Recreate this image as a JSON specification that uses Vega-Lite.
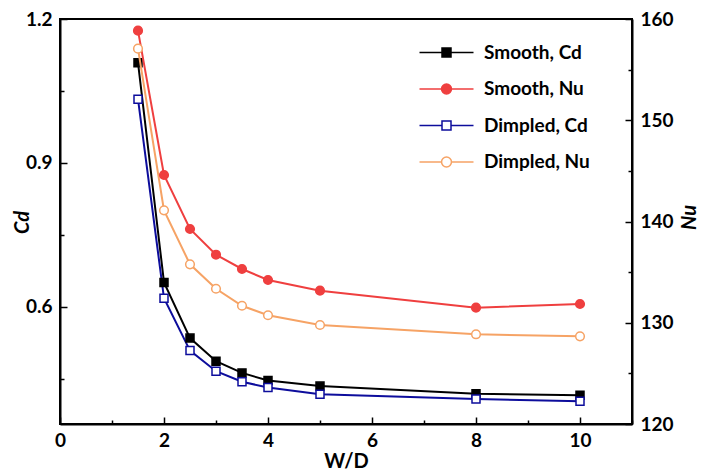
{
  "$schema": "https://vega.github.io/schema/vega-lite/v6.json",
  "width": 572,
  "height": 405,
  "autosize": {"type": "none"},
  "padding": {"left": 60, "top": 19, "right": 83, "bottom": 50},
  "background": "white",
  "datasets": {
    "cd": [
      {"WD": 1.5, "series": "Smooth, Cd", "Cd": 1.109},
      {"WD": 2, "series": "Smooth, Cd", "Cd": 0.651},
      {"WD": 2.5, "series": "Smooth, Cd", "Cd": 0.535},
      {"WD": 3, "series": "Smooth, Cd", "Cd": 0.487},
      {"WD": 3.5, "series": "Smooth, Cd", "Cd": 0.4625},
      {"WD": 4, "series": "Smooth, Cd", "Cd": 0.4465},
      {"WD": 5, "series": "Smooth, Cd", "Cd": 0.435},
      {"WD": 8, "series": "Smooth, Cd", "Cd": 0.419},
      {"WD": 10, "series": "Smooth, Cd", "Cd": 0.416},
      {"WD": 1.5, "series": "Dimpled, Cd", "Cd": 1.033},
      {"WD": 2, "series": "Dimpled, Cd", "Cd": 0.618},
      {"WD": 2.5, "series": "Dimpled, Cd", "Cd": 0.509},
      {"WD": 3, "series": "Dimpled, Cd", "Cd": 0.466},
      {"WD": 3.5, "series": "Dimpled, Cd", "Cd": 0.444},
      {"WD": 4, "series": "Dimpled, Cd", "Cd": 0.432},
      {"WD": 5, "series": "Dimpled, Cd", "Cd": 0.418},
      {"WD": 8, "series": "Dimpled, Cd", "Cd": 0.408},
      {"WD": 10, "series": "Dimpled, Cd", "Cd": 0.4035}
    ],
    "nu": [
      {"WD": 1.5, "series": "Smooth, Nu", "Nu": 158.85},
      {"WD": 2, "series": "Smooth, Nu", "Nu": 144.59},
      {"WD": 2.5, "series": "Smooth, Nu", "Nu": 139.26},
      {"WD": 3, "series": "Smooth, Nu", "Nu": 136.72},
      {"WD": 3.5, "series": "Smooth, Nu", "Nu": 135.31},
      {"WD": 4, "series": "Smooth, Nu", "Nu": 134.22},
      {"WD": 5, "series": "Smooth, Nu", "Nu": 133.17},
      {"WD": 8, "series": "Smooth, Nu", "Nu": 131.49},
      {"WD": 10, "series": "Smooth, Nu", "Nu": 131.85},
      {"WD": 1.5, "series": "Dimpled, Nu", "Nu": 157.07},
      {"WD": 2, "series": "Dimpled, Nu", "Nu": 141.1},
      {"WD": 2.5, "series": "Dimpled, Nu", "Nu": 135.77},
      {"WD": 3, "series": "Dimpled, Nu", "Nu": 133.36},
      {"WD": 3.5, "series": "Dimpled, Nu", "Nu": 131.68},
      {"WD": 4, "series": "Dimpled, Nu", "Nu": 130.74},
      {"WD": 5, "series": "Dimpled, Nu", "Nu": 129.78},
      {"WD": 8, "series": "Dimpled, Nu", "Nu": 128.86},
      {"WD": 10, "series": "Dimpled, Nu", "Nu": 128.66}
    ]
  },
  "config": {
    "view": {"stroke": "black", "strokeWidth": 2},
    "font": "Lato",
    "axis": {
      "grid": false,
      "domainColor": "black",
      "domainWidth": 2,
      "labelFont": "Lato",
      "labelFontSize": 19,
      "labelFontWeight": "bold",
      "labelColor": "black",
      "titleFont": "Lato",
      "titleFontSize": 20,
      "titleFontWeight": "bold",
      "titleColor": "black",
      "labelFlush": false,
      "labelOverlap": false
    },
    "legend": {
      "labelFont": "Lato",
      "labelFontSize": 19,
      "labelFontWeight": "bold",
      "labelColor": "black"
    }
  },
  "layer": [
    {
      "data": {"name": "cd"},
      "mark": {"type": "line", "strokeWidth": 2},
      "encoding": {
        "x": {"field": "WD", "type": "quantitative", "scale": {"domain": [0, 11], "nice": false, "zero": false},
              "axis": {"orient": "bottom", "values": [0, 1, 2, 3, 4, 5, 6, 7, 8, 9, 10, 11],
                       "labelExpr": "datum.value % 2 === 0 ? datum.label : ''",
                       "ticks": true, "tickColor": "black", "tickWidth": 1.5,
                       "tickSize": {"condition": {"test": "datum.value % 2 === 0", "value": -7}, "value": -4},
                       "labelPadding": 14,
                       "title": "W/D", "titleX": 286, "titleY": 37, "titleBaseline": "middle", "titleAlign": "center"}},
        "y": {"field": "Cd", "type": "quantitative", "scale": {"domain": [0.356, 1.2], "nice": false, "zero": false},
              "axis": {"orient": "left", "values": [0.45, 0.6, 0.75, 0.9, 1.05, 1.2],
                       "labelExpr": "abs(datum.value * 10 - round(datum.value * 10)) < 0.01 ? format(datum.value, '.1f') : ''",
                       "ticks": true, "tickColor": "black", "tickWidth": 1.5,
                       "tickSize": {"condition": {"test": "abs(datum.value * 10 - round(datum.value * 10)) < 0.01", "value": -7}, "value": -4},
                       "labelPadding": 15,
                       "title": "Cd", "titleFontStyle": "italic", "titleX": -38, "titleY": 203, "titleAngle": 270, "titleBaseline": "middle", "titleAlign": "center"}},
        "stroke": {"field": "series", "type": "nominal",
                   "scale": {"domain": ["Smooth, Cd", "Smooth, Nu", "Dimpled, Cd", "Dimpled, Nu"], "range": ["#000000", "#ef3f3f", "#0d0d9c", "#f6a365"]},
                   "legend": {"title": null, "orient": "none", "legendX": 377, "legendY": 24, "padding": 0, "symbolSize": 81, "symbolStrokeWidth": 1.5, "labelOffset": 28, "rowPadding": 16.5, "labelLimit": 300}}
      }
    },
    {
      "data": {"name": "cd"},
      "mark": {"type": "point", "shape": "square", "filled": true, "size": 64, "strokeWidth": 1.5, "opacity": 1},
      "encoding": {
        "x": {"field": "WD", "type": "quantitative"},
        "y": {"field": "Cd", "type": "quantitative", "scale": {"domain": [0.356, 1.2], "nice": false, "zero": false}, "axis": null},
        "stroke": {"field": "series", "type": "nominal"},
        "fill": {"field": "series", "type": "nominal",
                 "scale": {"domain": ["Smooth, Cd", "Smooth, Nu", "Dimpled, Cd", "Dimpled, Nu"], "range": ["#000000", "#ef3f3f", "#ffffff", "#ffffff"]}}
      }
    },
    {
      "data": {"values": []},
      "mark": {"type": "point", "filled": true},
      "encoding": {
        "x": {"field": "WD", "type": "quantitative"},
        "y": {"field": "Cd", "type": "quantitative", "scale": {"domain": [0.356, 1.2], "nice": false, "zero": false}, "axis": null},
        "stroke": {"field": "series", "type": "nominal"},
        "fill": {"field": "series", "type": "nominal"},
        "shape": {"field": "series", "type": "nominal",
                  "scale": {"domain": ["Smooth, Cd", "Smooth, Nu", "Dimpled, Cd", "Dimpled, Nu"],
                            "range": ["M-6,0H-1M1,0H6M-1,-1H1V1H-1Z", "M-6,0H-1.1M1.1,0H6M-1.1,0A1.1,1.1,0,1,0,1.1,0A1.1,1.1,0,1,0,-1.1,0Z", "M-6,0H-1M1,0H6M-1,-1H1V1H-1Z", "M-6,0H-1.1M1.1,0H6M-1.1,0A1.1,1.1,0,1,0,1.1,0A1.1,1.1,0,1,0,-1.1,0Z"]}}
      }
    },
    {
      "data": {"name": "nu"},
      "mark": {"type": "line", "strokeWidth": 2},
      "encoding": {
        "x": {"field": "WD", "type": "quantitative"},
        "y": {"field": "Nu", "type": "quantitative", "scale": {"domain": [120, 160], "nice": false, "zero": false},
              "axis": {"orient": "right", "values": [120, 125, 130, 135, 140, 145, 150, 155, 160],
                       "labelExpr": "datum.value % 10 === 0 ? datum.label : ''",
                       "ticks": true, "tickColor": "black", "tickWidth": 1.5,
                       "tickSize": {"condition": {"test": "datum.value % 10 === 0", "value": -7}, "value": -4},
                       "labelPadding": 15,
                       "title": "Nu", "titleFontStyle": "italic", "titleX": 57, "titleY": 198, "titleAngle": 270, "titleBaseline": "middle", "titleAlign": "center"}},
        "stroke": {"field": "series", "type": "nominal"}
      }
    },
    {
      "data": {"name": "nu"},
      "mark": {"type": "point", "shape": "circle", "filled": true, "size": 75, "strokeWidth": 1.5, "opacity": 1},
      "encoding": {
        "x": {"field": "WD", "type": "quantitative"},
        "y": {"field": "Nu", "type": "quantitative", "scale": {"domain": [120, 160], "nice": false, "zero": false}, "axis": null},
        "stroke": {"field": "series", "type": "nominal"},
        "fill": {"field": "series", "type": "nominal"}
      }
    }
  ],
  "resolve": {"scale": {"y": "independent"}}
}
